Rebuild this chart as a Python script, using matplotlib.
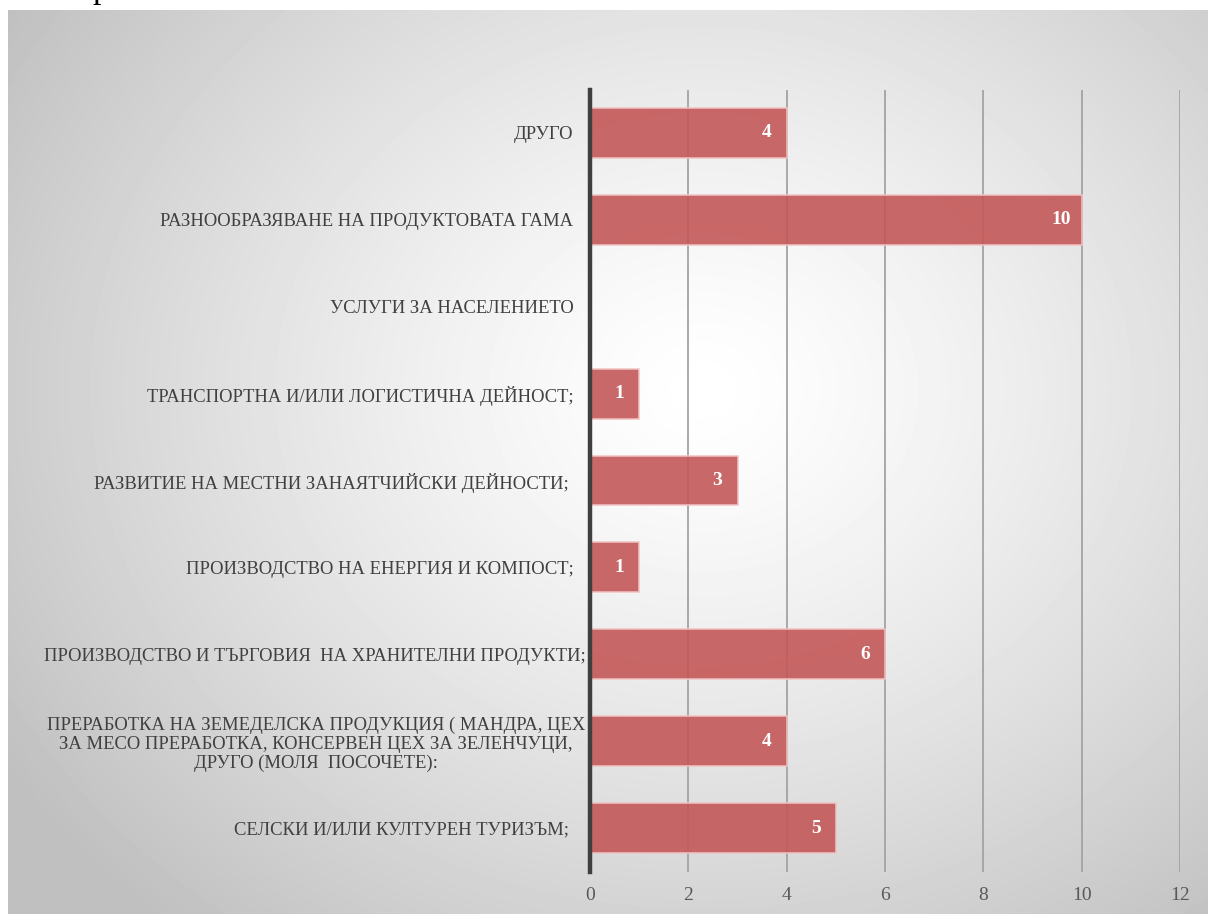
import numpy as np
import matplotlib.pyplot as plt
import matplotlib.transforms as mtransforms

plt.rcParams['font.family'] = ['Liberation Serif', 'DejaVu Serif']

categories = [
    "СЕЛСКИ И/ИЛИ КУЛТУРЕН ТУРИЗЪМ; ",
    "ПРЕРАБОТКА НА ЗЕМЕДЕЛСКА ПРОДУКЦИЯ ( МАНДРА, ЦЕХ\n"
    "ЗА МЕСО ПРЕРАБОТКА, КОНСЕРВЕН ЦЕХ ЗА ЗЕЛЕНЧУЦИ,\n"
    "ДРУГО (МОЛЯ  ПОСОЧЕТЕ):",
    "ПРОИЗВОДСТВО И ТЪРГОВИЯ  НА ХРАНИТЕЛНИ ПРОДУКТИ;",
    "ПРОИЗВОДСТВО НА ЕНЕРГИЯ И КОМПОСТ;",
    "РАЗВИТИЕ НА МЕСТНИ ЗАНАЯТЧИЙСКИ ДЕЙНОСТИ; ",
    "ТРАНСПОРТНА И/ИЛИ ЛОГИСТИЧНА ДЕЙНОСТ;",
    "УСЛУГИ ЗА НАСЕЛЕНИЕТО",
    "РАЗНООБРАЗЯВАНЕ НА ПРОДУКТОВАТА ГАМА",
    "ДРУГО",
]
values = [5, 4, 6, 1, 3, 1, 0, 10, 4]
xticks = [0, 2, 4, 6, 8, 10, 12]

W, H = 1208, 914
fig = plt.figure(figsize=(W / 100, H / 100), dpi=100)

# фон - радиален градиент (светло в центъра, сиво по краищата)
bg = fig.add_axes([8 / W, 0, 1 - 8 / W, (H - 10) / H])
gx, gy = np.meshgrid(np.linspace(0, 1, 400), np.linspace(0, 1, 300))
r = np.sqrt(((gx - 0.58) / 0.8) ** 2 + ((gy - 0.42) / 0.9) ** 2)
shade = np.clip(1.0 - 0.3 * r ** 1.3, 0.75, 1.0)
bg.imshow(shade, cmap='gray', vmin=0, vmax=1, aspect='auto',
          extent=[0, 1, 1, 0], interpolation='bilinear')
bg.axis('off')
# остатък от текст над диаграмата (отрязан и в оригинала)
fig.text(101 / W, 1 + 2 / H, "р", fontsize=24, color='black',
         ha='center', va='baseline')

ax = fig.add_axes([590 / W, 1 - 871.5 / H, 590 / W, (871.5 - 89.5) / H])
ax.set_facecolor('none')
y = np.arange(len(categories))
ax.barh(y, values, height=0.575, color='#c45858', alpha=0.9,
        edgecolor='#f2c4c4', linewidth=1.2, zorder=3)

for i, v in enumerate(values):
    if v > 0:
        ax.annotate(str(v), (v, i), xytext=(-20, 0), textcoords='offset pixels',
                    ha='center', va='center', color='white',
                    fontsize=14, fontweight='bold', zorder=4)

ax.set_xlim(0, 12)
ax.set_ylim(-0.5, len(categories) - 0.5)
ax.set_xticks(xticks)
ax.set_yticks(y)
ax.set_yticklabels(categories)
ax.tick_params(axis='y', length=0, pad=12, labelsize=13.4, labelcolor='#404040')
ax.tick_params(axis='x', length=0, pad=11, labelsize=14, labelcolor='#595959')
for i, lab in enumerate(ax.get_yticklabels()):
    lab.set_multialignment('center')
    lab.set_linespacing(1.15)
    if i in (1, 2):
        # дългите надписи са по-близо до оста
        lab.set_transform(lab.get_transform() +
                          mtransforms.ScaledTranslation(12 / 100, 0, fig.dpi_scale_trans))
ax.xaxis.grid(True, color='#a3a3a3', linewidth=1.3, zorder=1)
ax.set_axisbelow(True)
for s in ['top', 'right', 'bottom']:
    ax.spines[s].set_visible(False)
ax.spines['left'].set_color('#3f3f3f')
ax.spines['left'].set_linewidth(3.2)
ax.spines['left'].set_zorder(5)

fig.savefig('out.png', dpi=100)
